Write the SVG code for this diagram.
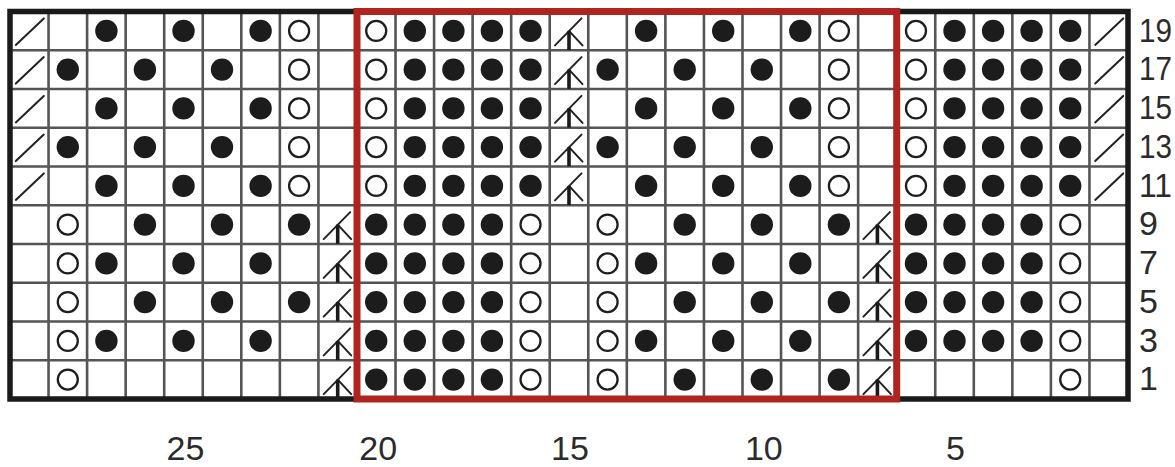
<svg xmlns="http://www.w3.org/2000/svg" width="1175" height="467" viewBox="0 0 1175 467">
<style>
.grid{fill:none;stroke:#555;stroke-width:2.6}
.frame{fill:none;stroke:#1a1a1a;stroke-width:5.5}
.red{fill:none;stroke:#b0241f;stroke-width:7}
.dot{fill:#1c1c1c}
.ring{fill:none;stroke:#1e1e1e;stroke-width:2.3}
.ln{fill:none;stroke:#222;stroke-width:2;stroke-linecap:round}
.stem{fill:none;stroke:#1a1a1a;stroke-width:3.6}
.lbl{font-family:"Liberation Sans","Open Sans",sans-serif;font-size:34px;fill:#2b2b2b}
.rl{font-family:"Liberation Sans","Open Sans",sans-serif;font-size:34px;fill:#2b2b2b}
</style>
<defs>
<circle id="k" class="dot" r="11.2"/>
<circle id="o" class="ring" r="10"/>
<path id="s" class="ln" d="M-13.5 14 L14.5 -12.5"/>
<g id="v"><path class="ln" d="M-14 14.5 L12.5 -12.5 M0 0 L13.5 14.5"/><path class="stem" d="M0 0 V19.2"/></g>
<g id="rowA">
<use href="#s" x="29.3"/><use href="#k" x="106.4"/><use href="#k" x="183.5"/><use href="#k" x="260.6"/><use href="#o" x="299.1"/>
<use href="#o" x="376.2"/><use href="#k" x="414.8"/><use href="#k" x="453.4"/><use href="#k" x="491.9"/><use href="#k" x="530.5"/><use href="#v" x="569"/>
<use href="#k" x="646.1"/><use href="#k" x="723.2"/><use href="#k" x="800.3"/><use href="#o" x="838.9"/>
<use href="#o" x="916"/><use href="#k" x="954.5"/><use href="#k" x="993.1"/><use href="#k" x="1031.6"/><use href="#k" x="1070.2"/><use href="#s" x="1108.7"/>
</g>
<g id="rowB">
<use href="#s" x="29.3"/><use href="#k" x="67.8"/><use href="#k" x="144.9"/><use href="#k" x="222"/><use href="#o" x="299.1"/>
<use href="#o" x="376.2"/><use href="#k" x="414.8"/><use href="#k" x="453.4"/><use href="#k" x="491.9"/><use href="#k" x="530.5"/><use href="#v" x="569"/>
<use href="#k" x="607.6"/><use href="#k" x="684.7"/><use href="#k" x="761.8"/><use href="#o" x="838.9"/>
<use href="#o" x="916"/><use href="#k" x="954.5"/><use href="#k" x="993.1"/><use href="#k" x="1031.6"/><use href="#k" x="1070.2"/><use href="#s" x="1108.7"/>
</g>
<g id="rowC">
<use href="#o" x="67.8"/><use href="#k" x="144.9"/><use href="#k" x="222"/><use href="#k" x="299.1"/><use href="#v" x="337.7"/>
<use href="#k" x="376.2"/><use href="#k" x="414.8"/><use href="#k" x="453.4"/><use href="#k" x="491.9"/><use href="#o" x="530.5"/>
<use href="#o" x="607.6"/><use href="#k" x="684.7"/><use href="#k" x="761.8"/><use href="#k" x="838.9"/><use href="#v" x="877.4"/>
<use href="#k" x="916"/><use href="#k" x="954.5"/><use href="#k" x="993.1"/><use href="#k" x="1031.6"/><use href="#o" x="1070.2"/>
</g>
<g id="rowD">
<use href="#o" x="67.8"/><use href="#k" x="106.4"/><use href="#k" x="183.5"/><use href="#k" x="260.6"/><use href="#v" x="337.7"/>
<use href="#k" x="376.2"/><use href="#k" x="414.8"/><use href="#k" x="453.4"/><use href="#k" x="491.9"/><use href="#o" x="530.5"/>
<use href="#o" x="607.6"/><use href="#k" x="646.1"/><use href="#k" x="723.2"/><use href="#k" x="800.3"/><use href="#v" x="877.4"/>
<use href="#k" x="916"/><use href="#k" x="954.5"/><use href="#k" x="993.1"/><use href="#k" x="1031.6"/><use href="#o" x="1070.2"/>
</g>
<g id="rowE">
<use href="#o" x="67.8"/><use href="#v" x="337.7"/>
<use href="#k" x="376.2"/><use href="#k" x="414.8"/><use href="#k" x="453.4"/><use href="#k" x="491.9"/><use href="#o" x="530.5"/>
<use href="#o" x="607.6"/><use href="#k" x="684.7"/><use href="#k" x="761.8"/><use href="#k" x="838.9"/><use href="#v" x="877.4"/>
<use href="#o" x="1070.2"/>
</g>
</defs>
<rect width="1175" height="467" fill="#fff"/>
<g id="grid">
<path class="grid" d="M48.55 11.5V399M87.1 11.5V399M125.66 11.5V399M164.21 11.5V399M202.76 11.5V399M241.31 11.5V399M279.86 11.5V399M318.42 11.5V399M356.97 11.5V399M395.52 11.5V399M434.07 11.5V399M472.62 11.5V399M511.18 11.5V399M549.73 11.5V399M588.28 11.5V399M626.83 11.5V399M665.38 11.5V399M703.94 11.5V399M742.49 11.5V399M781.04 11.5V399M819.59 11.5V399M858.14 11.5V399M896.7 11.5V399M935.25 11.5V399M973.8 11.5V399M1012.35 11.5V399M1050.9 11.5V399M1089.46 11.5V399"/>
<path class="grid" d="M10 50.25H1128M10 89H1128M10 127.75H1128M10 166.5H1128M10 205.25H1128M10 244H1128M10 282.75H1128M10 321.5H1128M10 360.25H1128"/>
</g>
<g id="stitches">
<g id="row19"><use href="#rowA" y="30.9"/></g>
<g id="row18"><use href="#rowB" y="69.6"/></g>
<g id="row17"><use href="#rowA" y="108.4"/></g>
<g id="row16"><use href="#rowB" y="147.1"/></g>
<g id="row15"><use href="#rowA" y="185.9"/></g>
<g id="row14"><use href="#rowC" y="224.6"/></g>
<g id="row13"><use href="#rowD" y="263.4"/></g>
<g id="row12"><use href="#rowC" y="302.1"/></g>
<g id="row11"><use href="#rowD" y="340.9"/></g>
<g id="row10"><use href="#rowE" y="379.6"/></g>
</g>
<rect id="frame" class="frame" x="10" y="11.5" width="1118" height="387.5"/>
<rect id="repeat" class="red" x="357" y="11.5" width="539.7" height="387.5"/>
<g id="row-labels" class="rl">
<text x="1139" y="41.5" textLength="33" lengthAdjust="spacingAndGlyphs">19</text>
<text x="1139" y="80.2" textLength="33" lengthAdjust="spacingAndGlyphs">17</text>
<text x="1139" y="119" textLength="33" lengthAdjust="spacingAndGlyphs">15</text>
<text x="1139" y="157.7" textLength="33" lengthAdjust="spacingAndGlyphs">13</text>
<text x="1139" y="196.5" textLength="33" lengthAdjust="spacingAndGlyphs">11</text>
<text x="1139" y="235.2">9</text>
<text x="1139" y="274">7</text>
<text x="1139" y="312.7">5</text>
<text x="1139" y="351.5">3</text>
<text x="1139" y="390.2">1</text>
</g>
<g id="col-labels" class="lbl" text-anchor="middle">
<text x="185.5" y="459.5">25</text>
<text x="378.2" y="459.5">20</text>
<text x="570" y="459.5">15</text>
<text x="763.8" y="459.5">10</text>
<text x="955.5" y="459.5">5</text>
</g>
</svg>
